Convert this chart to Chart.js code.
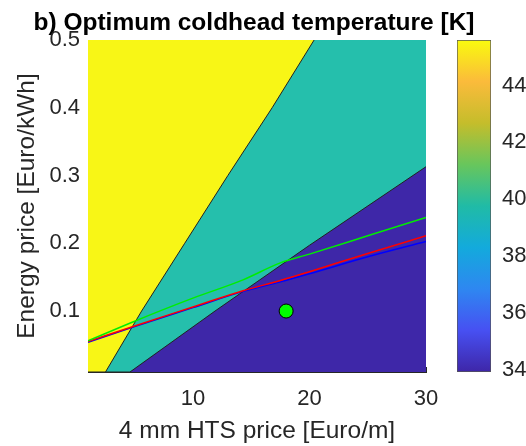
<!DOCTYPE html>
<html>
<head>
<meta charset="utf-8">
<title>Optimum coldhead temperature</title>
<script src="https://cdn.jsdelivr.net/npm/chart.js@4.4.1/dist/chart.umd.min.js"></script>
<style>
  body { margin: 0; background: #ffffff; }
  #wrap { position: relative; width: 526px; height: 446px; }
  #mainChart { position: absolute; left: 0; top: 0; }
  #barChart { position: absolute; left: 440px; top: 0; }
</style>
</head>
<body>
<div id="wrap">
  <canvas id="mainChart" width="508" height="446"></canvas>
  <canvas id="barChart" width="86" height="446"></canvas>
</div>
<script>
// axes
const xRange = [1, 30];
const yRange = [0.01, 0.5];
const xTicks = [10, 20, 30];
const yTicks = [0.1, 0.2, 0.3, 0.4, 0.5];

// region borders (HTS price, energy price)
const yellowEdgeX = [1, 2.5, 5.6, 9.3, 13.0, 16.8, 20.4];
const yellowEdgeY = [0.01, 0.01, 0.1, 0.2, 0.3, 0.4, 0.5];
const tealEdgeX = [1, 4.6, 11.9, 20.0, 30];
const tealEdgeY = [0.01, 0.01, 0.1, 0.197, 0.313];
const blueFloorX = [1, 30];
const blueFloorY = [0.01, 0.01];

// break-even lines
const lineX = [1, 5, 10, 14.3, 17.5, 20, 25, 30];
const greenY = [0.056, 0.085, 0.119, 0.146, 0.171, 0.184, 0.211, 0.238];
const redY = [0.055, 0.078, 0.106, 0.130, 0.145, 0.158, 0.185, 0.211];
const blueY = [0.054, 0.077, 0.105, 0.129, 0.143, 0.155, 0.180, 0.2025];

// operating point
const pointX = [18];
const pointY = [0.1];

// colorbar [K]
const cbRange = [33.93, 45.6];
const cbTicks = [34, 36, 38, 40, 42, 44];

const parula = [
  [0.0, "#3e26a8"],
  [0.125, "#4750f2"],
  [0.25, "#2e87f1"],
  [0.375, "#13aadc"],
  [0.5, "#20bba6"],
  [0.625, "#68c65c"],
  [0.75, "#c5bd2b"],
  [0.875, "#fbbb3b"],
  [1.0, "#f9fb0e"],
];

const font = '"Liberation Sans", Arial, Helvetica, sans-serif';
const ink = "#262626";

function pts(xs, ys) {
  return xs.map((x, i) => ({ x, y: ys[i] }));
}

function region(xs, ys, color, edge) {
  return {
    data: pts(xs, ys),
    borderColor: edge,
    borderWidth: edge ? 1 : 0,
    backgroundColor: color,
    fill: "end",
    pointRadius: 0,
    tension: 0,
  };
}

function curve(ys, color) {
  return {
    data: pts(lineX, ys),
    borderColor: color,
    borderWidth: 1.5,
    fill: false,
    pointRadius: 0,
    cubicInterpolationMode: "monotone",
  };
}

function fixedTicks(values) {
  return (scale) => {
    scale.ticks = values.map((value) => ({ value }));
  };
}

// MATLAB style: short ticks pointing into the plot
const innerTicks = {
  display: true,
  drawOnChartArea: false,
  drawTicks: true,
  tickLength: -5,
  color: ink,
};

new Chart(document.getElementById("mainChart"), {
  type: "line",
  data: {
    datasets: [
      {
        data: pts(pointX, pointY),
        showLine: false,
        pointRadius: 7,
        pointBackgroundColor: "#00ff00",
        pointBorderColor: "#000000",
        pointBorderWidth: 1,
      },
      curve(greenY, "#00ee00"),
      curve(redY, "#ff0000"),
      curve(blueY, "#0000ff"),
      region(yellowEdgeX, yellowEdgeY, "#f8f616", "#222222"),
      region(tealEdgeX, tealEdgeY, "#25bfac", "#222222"),
      region(blueFloorX, blueFloorY, "#3e27a8", null),
    ],
  },
  options: {
    responsive: false,
    animation: false,
    devicePixelRatio: 1,
    layout: { padding: 0 },
    plugins: {
      legend: { display: false },
      tooltip: { enabled: false },
      title: {
        display: true,
        text: "b) Optimum coldhead temperature [K]",
        color: "#000000",
        font: { family: font, size: 24.5, weight: "bold" },
        padding: { top: 9, bottom: 1.6 },
      },
    },
    scales: {
      x: {
        type: "linear",
        min: xRange[0],
        max: xRange[1],
        z: 1,
        afterBuildTicks: fixedTicks(xTicks),
        afterFit: (scale) => {
          scale.height = 74;
        },
        ticks: { color: ink, font: { family: font, size: 22 }, padding: 19 },
        grid: innerTicks,
        border: { color: ink, width: 1 },
        title: {
          display: true,
          text: "4 mm HTS price [Euro/m]",
          color: ink,
          font: { family: font, size: 24.5 },
          padding: { top: 0, bottom: 0 },
        },
      },
      y: {
        type: "linear",
        min: yRange[0],
        max: yRange[1],
        z: 1,
        afterBuildTicks: fixedTicks(yTicks),
        afterFit: (scale) => {
          scale.width = 88;
        },
        ticks: {
          color: ink,
          font: { family: font, size: 22 },
          padding: 13,
          callback: (v) => v.toFixed(1),
        },
        grid: innerTicks,
        border: { color: ink, width: 1 },
        title: {
          display: true,
          text: "Energy price [Euro/kWh]",
          color: ink,
          font: { family: font, size: 24.5 },
          padding: { top: 12.5, bottom: 0 },
        },
      },
      // empty right strip so the title centres on the whole figure
      y2: {
        type: "linear",
        position: "right",
        display: true,
        afterFit: (scale) => {
          scale.width = 82;
        },
        ticks: { display: false },
        grid: { display: false },
        border: { display: false },
      },
    },
  },
});

new Chart(document.getElementById("barChart"), {
  type: "bar",
  data: {
    labels: [""],
    datasets: [
      {
        data: [cbRange],
        backgroundColor: (c) => {
          const area = c.chart.chartArea;
          if (!area) return parula[0][1];
          const g = c.chart.ctx.createLinearGradient(0, area.bottom, 0, area.top);
          parula.forEach(([stop, color]) => g.addColorStop(stop, color));
          return g;
        },
        borderColor: "#555555",
        borderWidth: 1,
        borderSkipped: false,
        barPercentage: 1,
        categoryPercentage: 1,
      },
    ],
  },
  options: {
    responsive: false,
    animation: false,
    devicePixelRatio: 1,
    layout: { padding: { left: 17, right: 0, top: 40, bottom: 74 } },
    plugins: { legend: { display: false }, tooltip: { enabled: false } },
    scales: {
      x: { display: false },
      y: {
        position: "right",
        min: cbRange[0],
        max: cbRange[1],
        z: 1,
        afterBuildTicks: fixedTicks(cbTicks),
        afterFit: (scale) => {
          scale.width = 35;
        },
        ticks: { color: ink, font: { family: font, size: 22 }, padding: 15 },
        grid: { ...innerTicks, tickLength: -4 },
        border: { display: false },
      },
    },
  },
});
</script>
</body>
</html>
